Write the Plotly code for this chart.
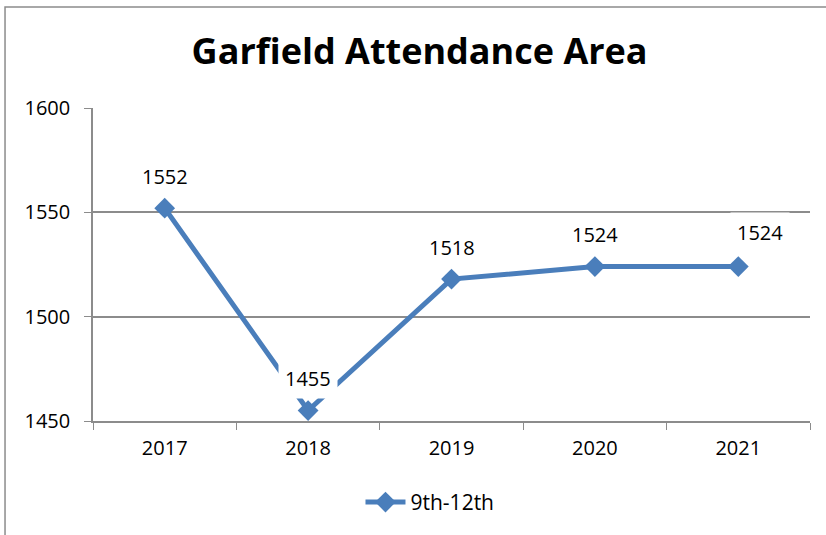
import plotly.graph_objects as go

years = ["2017", "2018", "2019", "2020", "2021"]
values = [1552, 1455, 1518, 1524, 1524]
series_name = "9th-12th"
title = "Garfield Attendance Area"

BLUE = "#4A7EBB"
GRID = "#8C8C8C"
FONT = "Open Sans"

fig = go.Figure()
fig.add_trace(go.Scatter(
    x=years, y=values, mode="lines+markers", name=series_name,
    line=dict(color=BLUE, width=5),
    marker=dict(symbol="diamond", size=16, color=BLUE),
))

n = len(values)
for i, v in enumerate(values):
    fig.add_annotation(x=i, y=v, xref="x", yref="y", text=str(v), showarrow=False,
                       yshift=34 if i == n - 1 else 32,
                       xshift=22 if i == n - 1 else 0,
                       bgcolor="white", borderpad=6,
                       font=dict(family=FONT, size=20, color="black"))

# chart border
fig.add_shape(type="rect", xref="paper", yref="paper",
              x0=-0.1227, x1=1.04, y0=-0.45, y1=1.3227,
              line=dict(color="#8C8C8C", width=1.5), layer="below")

fig.update_layout(
    width=826, height=535,
    margin=dict(l=93, r=16, t=108, b=114),
    paper_bgcolor="white", plot_bgcolor="white",
    title=dict(text="<b>" + title + "</b>", x=0.508, xanchor="center",
               y=0.903, yanchor="middle",
               font=dict(family=FONT, size=36, color="black")),
    font=dict(family=FONT, size=20, color="black"),
    showlegend=True,
    legend=dict(orientation="h", x=0.47, xanchor="center", y=-0.26, yanchor="middle",
                font=dict(size=21), itemwidth=40),
    xaxis=dict(type="category", range=[-0.5, 4.5], showgrid=False,
               showline=True, linecolor=GRID, linewidth=1.5,
               tickson="boundaries", ticks="outside", ticklen=7, tickcolor=GRID,
               tickfont=dict(size=20), ticklabelstandoff=8),
    yaxis=dict(range=[1450, 1600], tickvals=[1450, 1500, 1550, 1600],
               showgrid=True, gridcolor=GRID, gridwidth=1.5,
               showline=True, linecolor=GRID, linewidth=1.5,
               ticks="outside", ticklen=7, tickcolor=GRID,
               tickfont=dict(size=20), zeroline=False, ticklabelstandoff=10),
)

fig.write_html("out.html", config={"displayModeBar": False},
               post_script="document.body.style.margin='0';")
